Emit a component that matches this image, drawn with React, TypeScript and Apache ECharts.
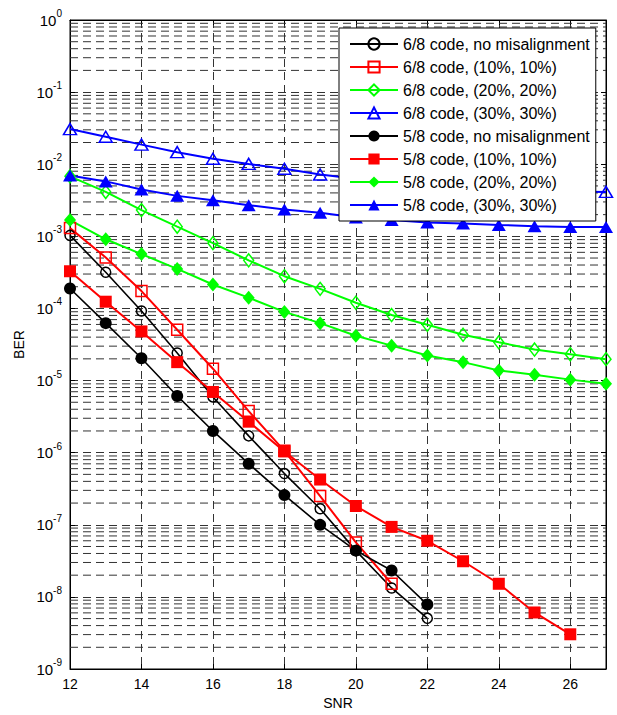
import React, { useEffect, useRef } from 'react';
import * as echarts from 'echarts';

const snr = [12, 13, 14, 15, 16, 17, 18, 19, 20, 21, 22, 23, 24, 25, 26, 27];
const xTicks = [12, 14, 16, 18, 20, 22, 24, 26];
const yDecades = [-9, -8, -7, -6, -5, -4, -3, -2, -1, 0];

const names = [
  '6/8 code, no misalignment',
  '6/8 code, (10%, 10%)',
  '6/8 code, (20%, 20%)',
  '6/8 code, (30%, 30%)',
  '5/8 code, no misalignment',
  '5/8 code, (10%, 10%)',
  '5/8 code, (20%, 20%)',
  '5/8 code, (30%, 30%)',
];

const c68None = [1.03e-3, 3.18e-4, 9.2e-5, 2.41e-5, 5.93e-6, 1.71e-6, 5.13e-7, 1.67e-7, 4.38e-8, 1.33e-8, 5.04e-9];
const c68P10 = [1.3e-3, 5.1e-4, 1.74e-4, 5.06e-5, 1.46e-5, 3.77e-6, 1.06e-6, 2.5e-7, 5.7e-8, 1.52e-8];
const c68P20 = [6.8e-3, 4.13e-3, 2.31e-3, 1.36e-3, 8.04e-4, 4.65e-4, 2.8e-4, 1.87e-4, 1.2e-4, 8.1e-5, 5.93e-5, 4.32e-5, 3.39e-5, 2.69e-5, 2.32e-5, 1.98e-5];
const c68P30 = [3.07e-2, 2.4e-2, 1.87e-2, 1.47e-2, 1.19e-2, 1.01e-2, 8.65e-3, 7.2e-3, 6.3e-3, 5.6e-3, 5.1e-3, 4.7e-3, 4.5e-3, 4.3e-3, 4.2e-3, 4.13e-3];
const c58None = [1.89e-4, 6.25e-5, 2.04e-5, 6.12e-6, 2.0e-6, 7.03e-7, 2.58e-7, 9.97e-8, 4.38e-8, 2.32e-8, 7.83e-9];
const c58P10 = [3.28e-4, 1.24e-4, 4.8e-5, 1.8e-5, 6.95e-6, 2.69e-6, 1.04e-6, 4.24e-7, 1.82e-7, 9.35e-8, 6.0e-8, 3.12e-8, 1.52e-8, 6.08e-9, 3.03e-9];
const c58P20 = [1.68e-3, 9.1e-4, 5.67e-4, 3.53e-4, 2.15e-4, 1.41e-4, 8.95e-5, 6.25e-5, 4.18e-5, 3.05e-5, 2.22e-5, 1.8e-5, 1.38e-5, 1.2e-5, 1.03e-5, 9.04e-6];
const c58P30 = [7.0e-3, 5.78e-3, 4.45e-3, 3.64e-3, 3.17e-3, 2.7e-3, 2.36e-3, 2.12e-3, 1.83e-3, 1.68e-3, 1.56e-3, 1.51e-3, 1.44e-3, 1.38e-3, 1.35e-3, 1.35e-3];

const FONT = 'Liberation Sans, Arial, sans-serif';
const GRID_COLOR = '#333';
const DASH = [8, 5];

function pairs(vals: number[]) {
  return vals.map((v, i) => [snr[i], v]);
}

export default function App() {
  const ref = useRef<HTMLDivElement>(null);
  useEffect(() => {
    if (!ref.current) return;
    const chart = echarts.init(ref.current, undefined, { renderer: 'svg' });

    // minor grid lines at 2..9 x 10^e, drawn as broken line segments across the x range
    const minorData: any[] = [];
    yDecades.slice(0, -1).forEach((e) => {
      for (let m = 2; m <= 9; m++) {
        const v = m * Math.pow(10, e);
        minorData.push([snr[0], v], [snr[snr.length - 1], v], [snr[snr.length - 1], '-']);
      }
    });

    const mk = (
      name: string,
      vals: number[],
      color: string,
      symbol: string,
      filled: boolean,
      size: number | number[],
      width: number
    ) => ({
      name,
      type: 'line',
      data: pairs(vals),
      symbol,
      symbolSize: size,
      showSymbol: true,
      z: 5,
      lineStyle: { color, width },
      itemStyle: filled
        ? { color, borderColor: color, borderWidth: 0 }
        : { color: 'none', borderColor: color, borderWidth: 1.5 },
      emphasis: { disabled: true },
    });

    const series: any[] = [
      {
        name: 'minorgrid',
        type: 'line',
        data: minorData,
        z: 1,
        silent: true,
        symbol: 'none',
        connectNulls: false,
        lineStyle: { color: GRID_COLOR, type: DASH, width: 1 },
        emphasis: { disabled: true },
      },
      mk(names[0], c68None, '#000000', 'circle', false, 10, 1.6),
      mk(names[1], c68P10, '#ff0000', 'rect', false, 11, 2),
      mk(names[2], c68P20, '#00ff00', 'diamond', false, [10, 13], 2),
      mk(names[3], c68P30, '#0000ff', 'triangle', false, [13, 11], 2),
      mk(names[4], c58None, '#000000', 'circle', true, 12, 1.6),
      mk(names[5], c58P10, '#ff0000', 'rect', true, 12, 2),
      mk(names[6], c58P20, '#00ff00', 'diamond', true, [12, 14], 2),
      mk(names[7], c58P30, '#0000ff', 'triangle', true, [14, 12], 2),
    ];

    const yLabelFmt = (v: number) => {
      const e = Math.round(Math.log10(v));
      if (!yDecades.includes(e)) return '';
      return `{b|10}{s|${e}}`;
    };

    chart.setOption({
      animation: false,
      backgroundColor: '#fff',
      grid: {
        left: 70,
        top: 20,
        right: 11,
        bottom: 41,
        show: true,
        borderColor: '#000',
        borderWidth: 1,
        backgroundColor: 'transparent',
      },
      legend: {
        data: names,
        orient: 'vertical',
        left: 339,
        top: 28,
        z: 20,
        itemWidth: 48,
        itemHeight: 14,
        itemGap: 5,
        padding: [7, 6, 7, 10],
        backgroundColor: '#fff',
        borderColor: '#000',
        borderWidth: 1,
        borderRadius: 0,
        selectedMode: false,
        textStyle: { fontFamily: FONT, fontSize: 16, lineHeight: 18, color: '#000' },
      },
      xAxis: [
        {
          type: 'value',
          min: 12,
          max: 27,
          interval: 2,
          name: 'SNR',
          nameLocation: 'middle',
          nameGap: 27,
          nameTextStyle: { fontFamily: FONT, fontSize: 14, color: '#000' },
          axisLine: { show: true, lineStyle: { color: '#000', width: 1 } },
          axisTick: { show: true, inside: true, length: 5, lineStyle: { color: '#000' } },
          axisLabel: {
            fontFamily: FONT,
            fontSize: 14,
            color: '#000',
            margin: 8,
            showMaxLabel: false,
            formatter: (v: number) => (xTicks.includes(v) ? String(v) : ''),
          },
          splitLine: { show: true, lineStyle: { color: GRID_COLOR, type: DASH, width: 1 } },
        },
        {
          type: 'value',
          position: 'top',
          min: 12,
          max: 27,
          interval: 2,
          axisLine: { show: true, lineStyle: { color: '#000', width: 1 } },
          axisTick: { show: true, inside: true, length: 5, lineStyle: { color: '#000' } },
          axisLabel: { show: false },
          splitLine: { show: false },
        },
      ],
      yAxis: [
        {
          type: 'log',
          logBase: 10,
          min: 1e-9,
          max: 1,
          splitNumber: 9,
          name: 'BER',
          nameLocation: 'middle',
          nameGap: 43,
          nameRotate: 90,
          nameTextStyle: { fontFamily: FONT, fontSize: 14, color: '#000' },
          axisLine: { show: true, lineStyle: { color: '#000', width: 1 } },
          axisTick: { show: true, inside: true, length: 5, lineStyle: { color: '#000' } },
          axisLabel: {
            fontFamily: FONT,
            color: '#000',
            margin: 8,
            formatter: yLabelFmt,
            rich: {
              b: { fontFamily: FONT, fontSize: 15, color: '#000' },
              s: { fontFamily: FONT, fontSize: 10, color: '#000', padding: [0, 0, 13, 0] },
            },
          },
          splitLine: { show: true, lineStyle: { color: GRID_COLOR, type: DASH, width: 1 } },
        },
        {
          type: 'log',
          logBase: 10,
          min: 1e-9,
          max: 1,
          splitNumber: 9,
          position: 'right',
          axisLine: { show: true, lineStyle: { color: '#000', width: 1 } },
          axisTick: { show: true, inside: true, length: 5, lineStyle: { color: '#000' } },
          axisLabel: { show: false },
          splitLine: { show: false },
        },
      ],
      series,
    });

    return () => chart.dispose();
  }, []);

  return <div ref={ref} style={{ width: 617, height: 715, position: 'absolute', left: 0, top: 0 }} />;
}
